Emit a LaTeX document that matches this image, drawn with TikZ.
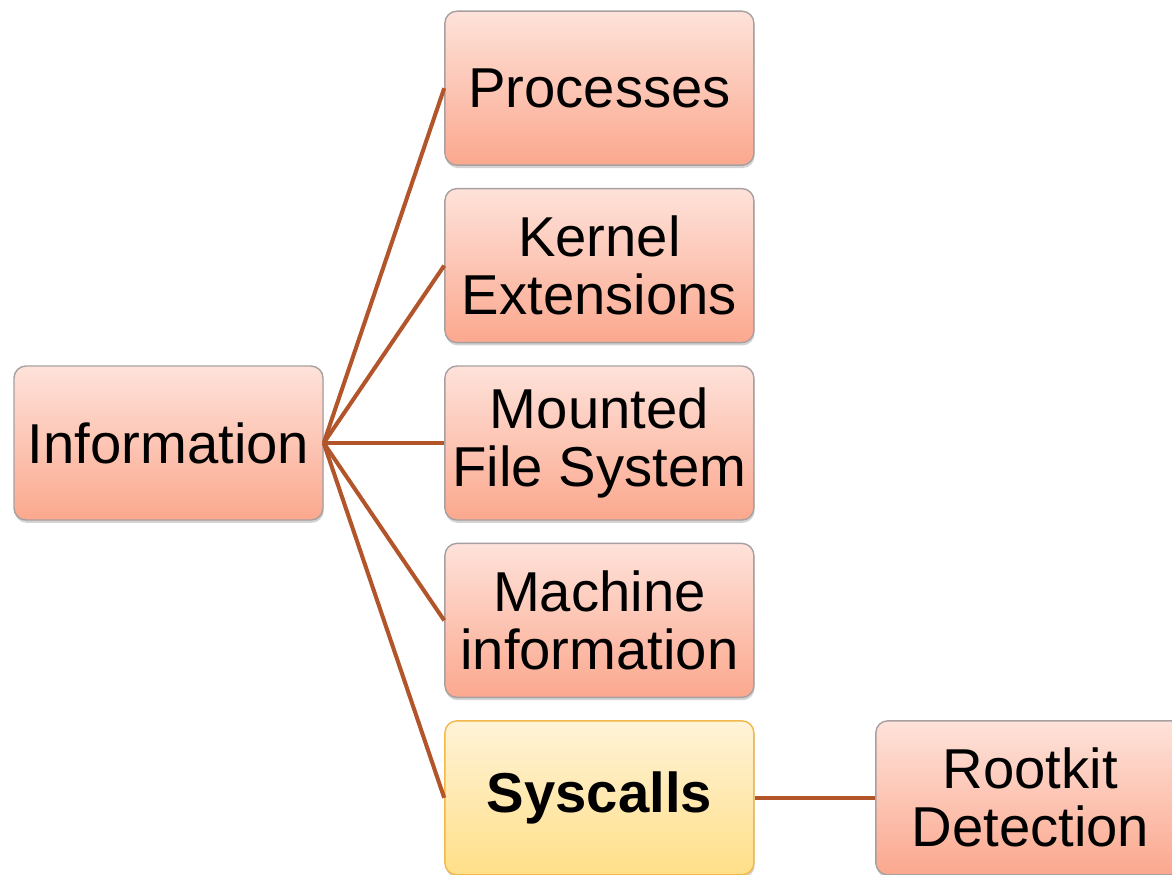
\documentclass[tikz,border=0pt]{standalone}
\usepackage{fontspec}
\setmainfont{Liberation Sans}
\usetikzlibrary{positioning}
\usetikzlibrary{shadows}

\definecolor{boxtop}{HTML}{FEE2DA}
\definecolor{boxbot}{HTML}{FBA88E}
\definecolor{boxline}{HTML}{A8A0A0}
\definecolor{hltop}{HTML}{FFF3D8}
\definecolor{hlbot}{HTML}{FFDF88}
\definecolor{hlline}{HTML}{F2B84A}
\definecolor{link}{HTML}{B2552A}

\begin{document}
\begin{tikzpicture}[node distance=0.44cm and 2.41cm,
  line width=2.3pt,
  item/.style={rectangle,rounded corners=0.24cm,draw=boxline,line width=0.8pt,
    top color=boxtop,bottom color=boxbot,minimum width=6.18cm,minimum height=3.08cm,
    align=center,inner sep=2pt,font=\fontsize{32}{33}\selectfont,
    drop shadow={shadow xshift=0.4pt,shadow yshift=-1.6pt,opacity=0.35}},
  picked/.style={item,draw=hlline,top color=hltop,bottom color=hlbot,font=\fontsize{32}{33}\selectfont\bfseries},
  link/.style={draw=link}]

  \useasboundingbox (0,0) rectangle (23.44,-17.48);
  \clip (0,0) rectangle (23.44,-17.48);

  \node[item] (info) at (3.37,-8.86) {Information};
  \node[item] (mount) [right=of info] {Mounted\\File System};
  \node[item] (kernel) [above=of mount] {Kernel\\Extensions};
  \node[item] (proc) [above=of kernel] {Processes};
  \node[item] (machine) [below=of mount] {Machine\\information};
  \node[picked] (sys) [below=of machine] {Syscalls};
  \node[item] (rootkit) [right=of sys] {Rootkit\\Detection};

  \foreach \n in {proc,kernel,mount,machine,sys}
    \draw[link] (info.east) -- (\n.west);
  \draw[link] (sys) -- (rootkit);
\end{tikzpicture}
\end{document}
